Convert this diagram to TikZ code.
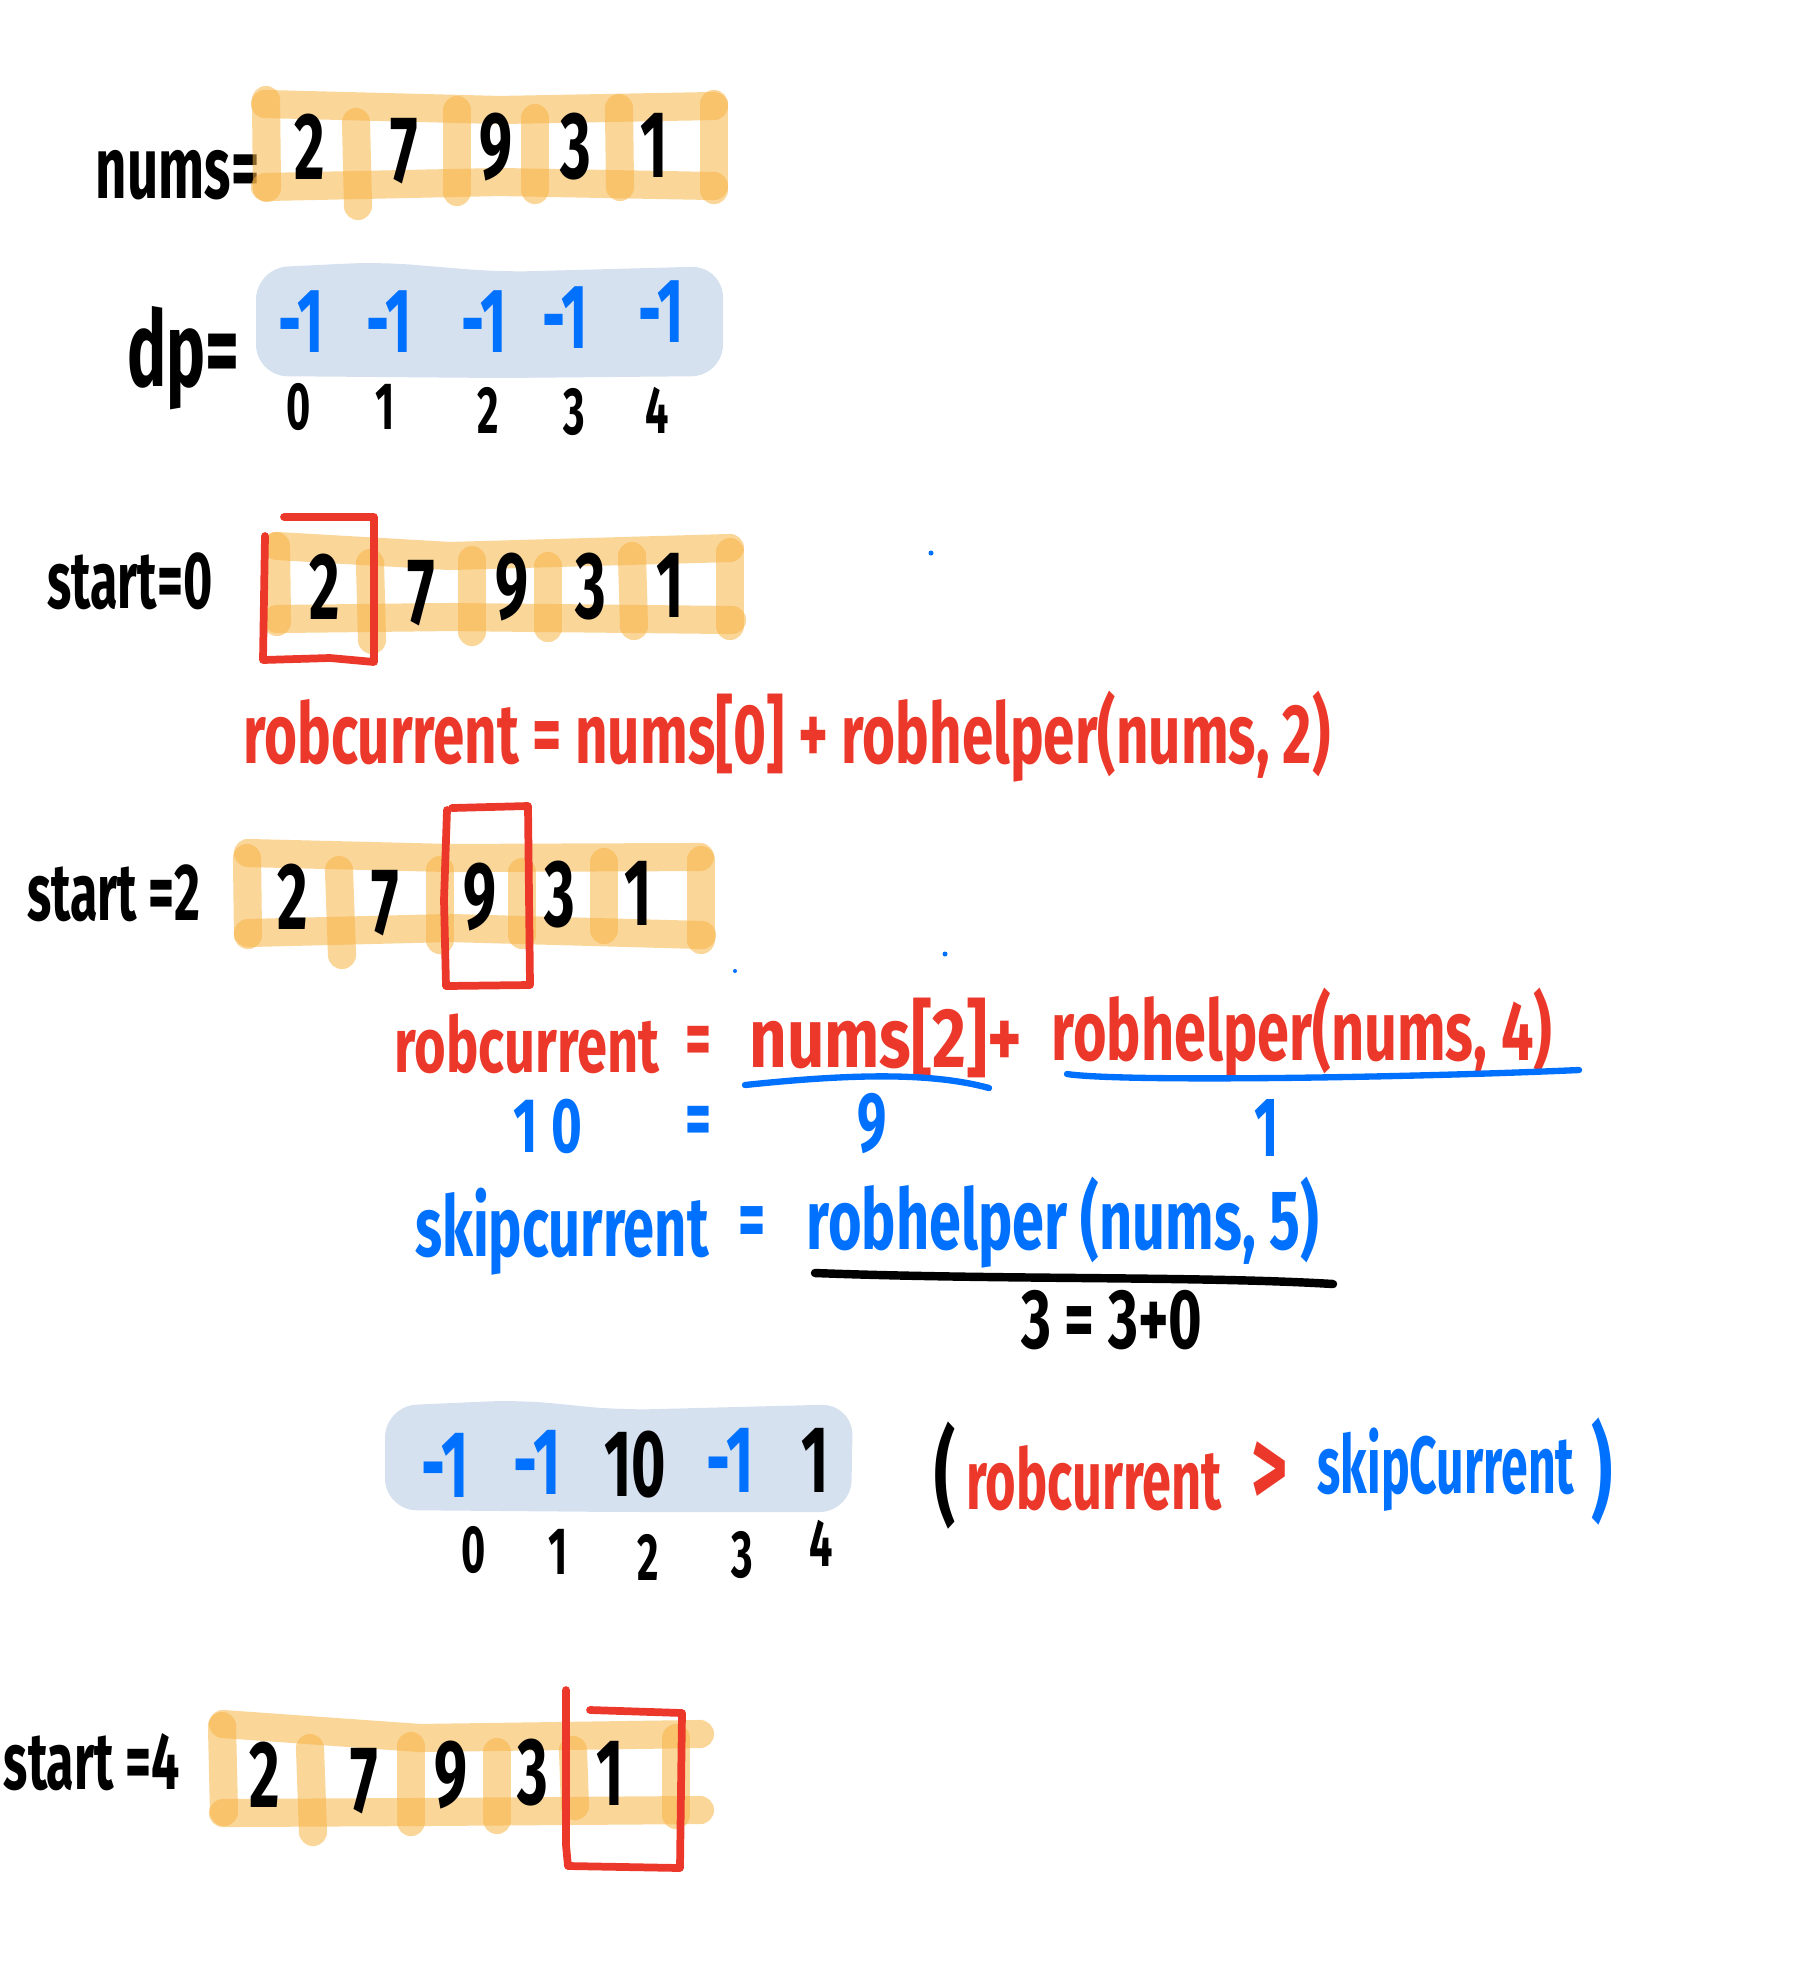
\documentclass[tikz,border=0pt]{standalone}
\usepackage{fontspec}
\newfontfamily\hand[FakeStretch=0.62]{Fira Sans}
\definecolor{hred}{RGB}{236,56,42}
\definecolor{hblue}{RGB}{0,112,255}
\definecolor{bandc}{RGB}{247,180,70}
\definecolor{boxc}{RGB}{214,225,240}
\tikzset{
  bandline/.style={draw=bandc, draw opacity=0.55, line width=8pt, line cap=round},
  redbox/.style={draw=hred, line width=2.2pt, line join=round, line cap=round},
  ht/.style={inner sep=0pt, font=\hand\bfseries\fontsize{#1}{#1}\selectfont},
  ht/.default=24,
  digit/.style={ht=27},
  idx/.style={ht=19},
  uline/.style={line width=1.8pt, line cap=round},
  dot/.style={fill=hblue, draw=none}
}
\begin{document}
\begin{tikzpicture}[x=0.01cm,y=-0.01cm]
\useasboundingbox (0,0) rectangle (1799,1981);

% ---------- nums row ----------
\node[ht=25, anchor=east] (lnums) at (260,175) {nums=};
\draw[bandline] (265,104) -- (500,110) -- (714,106);
\draw[bandline] (265,187) -- (500,182) -- (714,186);
\draw[bandline] (266,100) -- (267,188);
\draw[bandline] (714,104) -- (714,190);
\draw[bandline] (356,122) -- (358,206);
\draw[bandline] (457,110) -- (457,192);
\draw[bandline] (535,118) -- (535,190);
\draw[bandline] (619,108) -- (620,187);
\node[digit] (a0) at (310,147) {2};
\node[digit] (a1) at (404,151) {7};
\node[digit] (a2) at (496,147) {9};
\node[digit] (a3) at (576,147) {3};
\node[digit] (a4) at (654,145) {1};

% ---------- dp row ----------
\node[ht=30, anchor=east] (ldp) at (240,358) {dp=};
\fill[boxc, rounded corners=9] (256,268) -- (380,262) -- (500,272) -- (723,266) -- (723,376) -- (500,378) -- (256,376) -- cycle;
\node[ht=26, text=hblue] (d0) at (301,322) {-1};
\node[ht=26, text=hblue] (d1) at (389,322) {-1};
\node[ht=26, text=hblue] (d2) at (484,322) {-1};
\node[ht=26, text=hblue] (d3) at (565,318) {-1};
\node[ht=26, text=hblue] (d4) at (661,312) {-1};
\node[idx] (i0) at (299,407) {0};
\node[idx] (i1) at (385,407) {1};
\node[idx] (i2) at (488,410) {2};
\node[idx] (i3) at (574,412) {3};
\node[idx] (i4) at (657,410) {4};

% ---------- start=0 ----------
\node[ht=23] (ls0) at (130,581) {start=0};
\draw[bandline] (277,546) -- (450,556) -- (730,548);
\draw[bandline] (277,619) -- (450,617) -- (732,620);
\draw[bandline] (276,546) -- (277,622);
\draw[bandline] (730,552) -- (730,626);
\draw[bandline] (370,563) -- (372,640);
\draw[bandline] (472,560) -- (472,632);
\draw[bandline] (548,566) -- (548,628);
\draw[bandline] (632,556) -- (634,626);
\node[digit] (b0) at (325,587) {2};
\node[digit] (b1) at (421,593) {7};
\node[digit] (b2) at (512,587) {9};
\node[digit] (b3) at (591,587) {3};
\node[digit] (b4) at (670,585) {1};
\draw[redbox] (284,517) -- (374,517) -- (374,662) -- (330,658) -- (263,660) -- (265,536);
\fill[dot] (931,553) circle (2.5);

\node[ht=24, text=hred] (rob1) at (787,737) {\scalebox{1.08}[1]{robcurrent = nums[0] + robhelper(nums, 2)}};

% ---------- start=2 ----------
\node[ht=23] (ls2) at (114,893) {start =2};
\draw[bandline] (248,853) -- (450,858) -- (700,857);
\draw[bandline] (248,933) -- (450,928) -- (702,935);
\draw[bandline] (247,858) -- (248,935);
\draw[bandline] (701,860) -- (701,940);
\draw[bandline] (339,870) -- (342,955);
\draw[bandline] (440,870) -- (440,940);
\draw[bandline] (522,872) -- (522,935);
\draw[bandline] (604,862) -- (604,930);
\node[digit] (c0) at (293,897) {2};
\node[digit] (c1) at (385,903) {7};
\node[digit] (c2) at (480,897) {9};
\node[digit] (c3) at (560,895) {3};
\node[digit] (c4) at (638,893) {1};
\draw[redbox] (452,808) -- (528,806) -- (530,985) -- (446,986) -- (444,900) -- (447,810);
\fill[dot] (945,954) circle (2.5);
\fill[dot] (735,971) circle (2);

% ---------- robcurrent details ----------
\node[ht=22, text=hred] (r2a) at (527,1044) {\scalebox{1.13}[1]{robcurrent}};
\node[ht=23, text=hred] (r2b) at (699,1046) {=};
\node[ht=24, text=hred] (r2c) at (886,1038) {\scalebox{1.25}[1]{nums[2]+}};
\node[ht=24, text=hred] (r2d) at (1302,1034) {\scalebox{1.1}[1]{robhelper(nums, 4)}};
\draw[uline, hblue] (745,1085) .. controls (850,1074) and (930,1072) .. (989,1088);
\draw[uline, hblue] (1067,1074) .. controls (1120,1082) and (1400,1078) .. (1579,1070);
\node[ht=22, text=hblue] (v10) at (548,1126) {\scalebox{1.1}[1]{1\,0}};
\node[ht=23, text=hblue] (veq) at (699,1126) {=};
\node[ht=24, text=hblue] (v9) at (872,1124) {9};
\node[ht=24, text=hblue] (v1) at (1267,1128) {1};

\node[ht=24, text=hblue] (s1) at (562,1232) {\scalebox{1.07}[1]{skipcurrent}};
\node[ht=24, text=hblue] (s2) at (752,1228) {=};
\node[ht=24, text=hblue] (s3) at (1063,1223) {\scalebox{1.1}[1]{robhelper (nums, 5)}};
\draw[line width=2.4pt, line cap=round] (815,1273) .. controls (1000,1280) and (1200,1276) .. (1333,1284);
\node[ht=24] (s4) at (1112,1320) {\scalebox{1.1}[1]{3 = 3+0}};

% ---------- updated dp ----------
\fill[boxc, rounded corners=9] (385,1406) -- (520,1400) -- (620,1410) -- (853,1404) -- (851,1512) -- (620,1512) -- (385,1510) -- cycle;
\node[ht=27, text=hblue] (e0) at (445,1465) {-1};
\node[ht=27, text=hblue] (e1) at (537,1462) {-1};
\node[ht=27] (e2) at (635,1465) {10};
\node[ht=27, text=hblue] (e3) at (730,1460) {-1};
\node[ht=27] (e4) at (815,1460) {1};
\node[idx] (j0) at (474,1550) {0};
\node[idx] (j1) at (558,1552) {1};
\node[idx] (j2) at (648,1557) {2};
\node[idx] (j3) at (742,1555) {3};
\node[idx] (j4) at (821,1543) {4};

\node[ht=30] (p1) at (945,1476) {(};
\node[ht=24, text=hred] (p2) at (1094,1478) {robcurrent};
\node[ht=32, text=hred] (p3) at (1270,1474) {>};
\node[ht=23, text=hblue] (p4) at (1446,1470) {\scalebox{0.96}[1]{skipCurrent}};
\node[ht=30, text=hblue] (p5) at (1602,1472) {)};

% ---------- start=4 ----------
\node[ht=23] (ls4) at (92,1762) {start =4};
\draw[bandline] (223,1724) -- (420,1738) -- (700,1734);
\draw[bandline] (223,1813) -- (420,1812) -- (700,1810);
\draw[bandline] (222,1726) -- (224,1812);
\draw[bandline] (676,1738) -- (676,1815);
\draw[bandline] (310,1748) -- (313,1832);
\draw[bandline] (411,1746) -- (411,1822);
\draw[bandline] (497,1752) -- (497,1820);
\draw[bandline] (573,1750) -- (575,1806);
\node[digit] (f0) at (265,1775) {2};
\node[digit] (f1) at (364,1781) {7};
\node[digit] (f2) at (451,1775) {9};
\node[digit] (f3) at (533,1773) {3};
\node[digit] (f4) at (610,1773) {1};
\draw[redbox] (566,1690) -- (566,1845) -- (568,1866) -- (680,1868) -- (682,1713) -- (590,1710);
\end{tikzpicture}
\end{document}
